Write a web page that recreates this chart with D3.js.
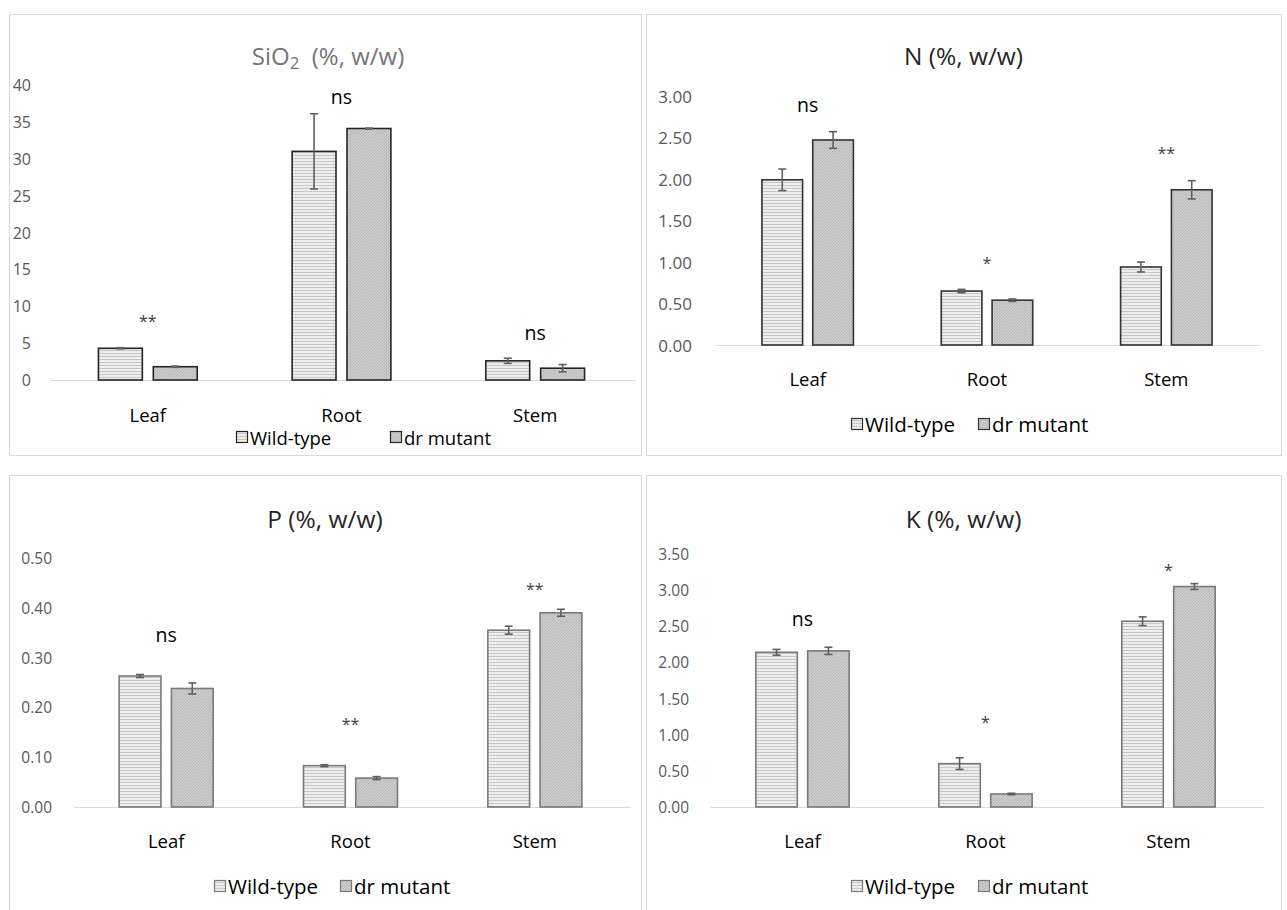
<!DOCTYPE html>
<html>
<head>
<meta charset="utf-8">
<script src="https://cdn.jsdelivr.net/npm/d3@7"></script>
<style>
  body { margin: 0; background: #fff; }
  svg { display: block; font-family: "Open Sans", "Noto Sans", sans-serif; }
</style>
</head>
<body>
<svg id="chart" width="1287" height="910"></svg>
<script>
// categories and series
var categories = ["Leaf", "Root", "Stem"];
var seriesNames = ["Wild-type", "dr mutant"];

// SiO2 (%, w/w)
var sio2Ticks = [0, 5, 10, 15, 20, 25, 30, 35, 40];
var sio2WT = [4.3, 31.0, 2.6];
var sio2WTErr = [0.08, 5.1, 0.35];
var sio2Mut = [1.8, 34.1, 1.6];
var sio2MutErr = [0.08, 0.05, 0.5];
var sio2Sig = ["**", "ns", "ns"];
var sio2SigY = [8.7, 38.5, 6.5];

// N (%, w/w)
var nTicks = [0, 0.5, 1, 1.5, 2, 2.5, 3];
var nWT = [1.99, 0.65, 0.94];
var nWTErr = [0.13, 0.02, 0.06];
var nMut = [2.47, 0.54, 1.87];
var nMutErr = [0.10, 0.015, 0.11];
var nSig = ["ns", "*", "**"];
var nSigY = [2.90, 1.05, 2.37];

// P (%, w/w)
var pTicks = [0, 0.1, 0.2, 0.3, 0.4, 0.5];
var pWT = [0.263, 0.083, 0.355];
var pWTErr = [0.003, 0.002, 0.008];
var pMut = [0.238, 0.058, 0.390];
var pMutErr = [0.011, 0.003, 0.007];
var pSig = ["ns", "**", "**"];
var pSigY = [0.347, 0.177, 0.448];

// K (%, w/w)
var kTicks = [0, 0.5, 1, 1.5, 2, 2.5, 3, 3.5];
var kWT = [2.14, 0.60, 2.57];
var kWTErr = [0.04, 0.08, 0.06];
var kMut = [2.16, 0.18, 3.05];
var kMutErr = [0.05, 0.01, 0.04];
var kSig = ["ns", "*", "*"];
var kSigY = [2.61, 1.24, 3.35];

var svg = d3.select("#chart");
svg.append("rect").attr("width", 1287).attr("height", 910).attr("fill", "#fff");

// hatch patterns
var defs = svg.append("defs");
var pw = defs.append("pattern").attr("id", "patWT").attr("patternUnits", "userSpaceOnUse")
    .attr("width", 4).attr("height", 3);
pw.append("rect").attr("width", 4).attr("height", 3).attr("fill", "#ededed");
pw.append("rect").attr("y", 2).attr("width", 4).attr("height", 1).attr("fill", "#c8c8c8");

var pm = defs.append("pattern").attr("id", "patMut").attr("patternUnits", "userSpaceOnUse")
    .attr("width", 3).attr("height", 3);
pm.append("rect").attr("width", 3).attr("height", 3).attr("fill", "#cdcdcd");
pm.append("path").attr("d", "M0,3 L3,0 M-1,1 L1,-1 M2,4 L4,2").attr("stroke", "#ababab").attr("stroke-width", 0.7);

var panels = [
  { box: [9, 14, 632, 441, true], title: "SiO", sub: "2", titleRest: "  (%, w/w)", titleColor: "#767676", titleSize: 24, titleY: 55,
    ticks: sio2Ticks, fmt: d3.format("d"), yTop: 85, yBot: 380, xL: 51, xR: 632, baseL: 50, tickX: 31, tickSize: 16,
    wt: sio2WT, wtErr: sio2WTErr, mut: sio2Mut, mutErr: sio2MutErr, sig: sio2Sig, sigY: sio2SigY,
    barStroke: "#262626", catY: 414, legY: 437, legX: [236, 390], legSize: 18.5 },
  { box: [646, 14, 635, 441, true], title: "N (%, w/w)", titleColor: "#262626", titleSize: 24.5, titleY: 55,
    ticks: nTicks, fmt: d3.format(".2f"), yTop: 96, yBot: 345, xL: 718, xR: 1256, baseL: 716, tickX: 692, tickSize: 17,
    wt: nWT, wtErr: nWTErr, mut: nMut, mutErr: nMutErr, sig: nSig, sigY: nSigY,
    barStroke: "#333333", catY: 378, legY: 424, legX: [851, 978], legSize: 20.5 },
  { box: [9, 475, 632, 440, false], title: "P (%, w/w)", titleColor: "#262626", titleSize: 24.5, titleY: 518,
    ticks: pTicks, fmt: d3.format(".2f"), yTop: 558, yBot: 807, xL: 74, xR: 627, baseL: 74, tickX: 52, tickSize: 15.5,
    wt: pWT, wtErr: pWTErr, mut: pMut, mutErr: pMutErr, sig: pSig, sigY: pSigY,
    barStroke: "#7a7a7a", catY: 840, legY: 886, legX: [214, 340], legSize: 20.5 },
  { box: [646, 475, 635, 440, false], title: "K (%, w/w)", titleColor: "#262626", titleSize: 24.5, titleY: 518,
    ticks: kTicks, fmt: d3.format(".2f"), yTop: 554, yBot: 807, xL: 711, xR: 1260, baseL: 711, tickX: 689, tickSize: 15.5,
    wt: kWT, wtErr: kWTErr, mut: kMut, mutErr: kMutErr, sig: kSig, sigY: kSigY,
    barStroke: "#7a7a7a", catY: 840, legY: 886, legX: [851, 978], legSize: 20.5 }
];

panels.forEach(drawPanel);

function drawPanel(cfg) {
  var g = svg.append("g");
  var b = cfg.box;
  // border
  if (b[4]) {
    g.append("rect").attr("x", b[0] + 0.5).attr("y", b[1] + 0.5).attr("width", b[2]).attr("height", b[3])
      .attr("fill", "none").attr("stroke", "#d9d9d9");
  } else {
    g.append("path").attr("d", "M" + (b[0] + 0.5) + "," + (b[1] + b[3]) + "V" + (b[1] + 0.5) + "H" + (b[0] + b[2] + 0.5) + "V" + (b[1] + b[3]))
      .attr("fill", "none").attr("stroke", "#d9d9d9");
  }

  var cx = b[0] + b[2] / 2;
  // title
  var t = g.append("text").attr("x", cx + 3).attr("y", cfg.titleY).attr("text-anchor", "middle")
    .attr("dominant-baseline", "central").attr("font-size", cfg.titleSize).attr("fill", cfg.titleColor)
    .style("white-space", "pre").attr("xml:space", "preserve");
  if (cfg.sub) {
    t.append("tspan").text(cfg.title);
    t.append("tspan").attr("font-size", cfg.titleSize * 0.7).attr("dy", 7).text(cfg.sub);
    t.append("tspan").attr("dy", -7).text(cfg.titleRest);
  } else {
    t.attr("x", cx).text(cfg.title);
  }

  var yMax = cfg.ticks[cfg.ticks.length - 1];
  var y = d3.scaleLinear().domain([0, yMax]).range([cfg.yBot, cfg.yTop]);
  var x = d3.scaleBand().domain(categories).range([cfg.xL, cfg.xR]);
  var bw = x.bandwidth();
  var xs = d3.scaleBand().domain(seriesNames).range([bw * 0.245, bw * 0.755]).paddingInner(0.2);

  // y tick labels
  g.selectAll(".tick").data(cfg.ticks).enter().append("text")
    .attr("x", cfg.tickX).attr("y", function(d) { return y(d); })
    .attr("text-anchor", "end").attr("dominant-baseline", "central")
    .attr("font-size", cfg.tickSize).attr("fill", "#595959")
    .text(function(d) { return cfg.fmt(d); });

  // baseline
  g.append("line").attr("x1", cfg.baseL).attr("x2", cfg.xR + 4)
    .attr("y1", y(0) + 0.5).attr("y2", y(0) + 0.5).attr("stroke", "#d9d9d9");

  var rows = [];
  categories.forEach(function(c, i) {
    rows.push({ cat: c, s: seriesNames[0], v: cfg.wt[i], e: cfg.wtErr[i], fill: "url(#patWT)" });
    rows.push({ cat: c, s: seriesNames[1], v: cfg.mut[i], e: cfg.mutErr[i], fill: "url(#patMut)" });
  });

  // bars
  g.selectAll(".bar").data(rows).enter().append("rect")
    .attr("x", function(d) { return x(d.cat) + xs(d.s); })
    .attr("y", function(d) { return y(d.v); })
    .attr("width", xs.bandwidth())
    .attr("height", function(d) { return y(0) - y(d.v); })
    .attr("fill", function(d) { return d.fill; })
    .attr("stroke", cfg.barStroke).attr("stroke-width", 1.6);

  // error bars
  var eb = g.selectAll(".err").data(rows).enter().append("g").attr("stroke", "#5f5f5f").attr("stroke-width", 1.6);
  function mid(d) { return x(d.cat) + xs(d.s) + xs.bandwidth() / 2; }
  eb.append("line").attr("x1", mid).attr("x2", mid)
    .attr("y1", function(d) { return y(d.v + d.e); }).attr("y2", function(d) { return y(d.v - d.e); });
  eb.append("line").attr("x1", function(d) { return mid(d) - 4; }).attr("x2", function(d) { return mid(d) + 4; })
    .attr("y1", function(d) { return y(d.v + d.e); }).attr("y2", function(d) { return y(d.v + d.e); });
  eb.append("line").attr("x1", function(d) { return mid(d) - 4; }).attr("x2", function(d) { return mid(d) + 4; })
    .attr("y1", function(d) { return y(d.v - d.e); }).attr("y2", function(d) { return y(d.v - d.e); });

  // significance labels
  g.selectAll(".sig").data(cfg.sig).enter().append("text")
    .attr("x", function(d, i) { return x(categories[i]) + bw / 2; })
    .attr("y", function(d, i) { return y(cfg.sigY[i]) + (d === "ns" ? 0 : 5); })
    .attr("text-anchor", "middle").attr("dominant-baseline", "central")
    .attr("font-size", function(d) { return d === "ns" ? 19.5 : 16; })
    .attr("fill", function(d) { return d === "ns" ? "#000" : "#404040"; })
    .text(function(d) { return d; });

  // category labels
  g.selectAll(".cat").data(categories).enter().append("text")
    .attr("x", function(d) { return x(d) + bw / 2; }).attr("y", cfg.catY)
    .attr("text-anchor", "middle").attr("dominant-baseline", "central")
    .attr("font-size", 18.5).attr("fill", "#000").text(function(d) { return d; });

  // legend
  var leg = g.selectAll(".leg").data(seriesNames).enter().append("g")
    .attr("transform", function(d, i) { return "translate(" + cfg.legX[i] + "," + cfg.legY + ")"; });
  leg.append("rect").attr("x", 0.5).attr("y", -5.5).attr("width", 11).attr("height", 11)
    .attr("fill", function(d, i) { return i === 0 ? "url(#patWT)" : "url(#patMut)"; })
    .attr("stroke", function(d, i) { return cfg.barStroke; }).attr("stroke-width", 1.2);
  leg.append("text").attr("x", 14).attr("y", 0).attr("dominant-baseline", "central")
    .attr("font-size", cfg.legSize).attr("fill", "#000").text(function(d) { return d; });
}
</script>
</body>
</html>
